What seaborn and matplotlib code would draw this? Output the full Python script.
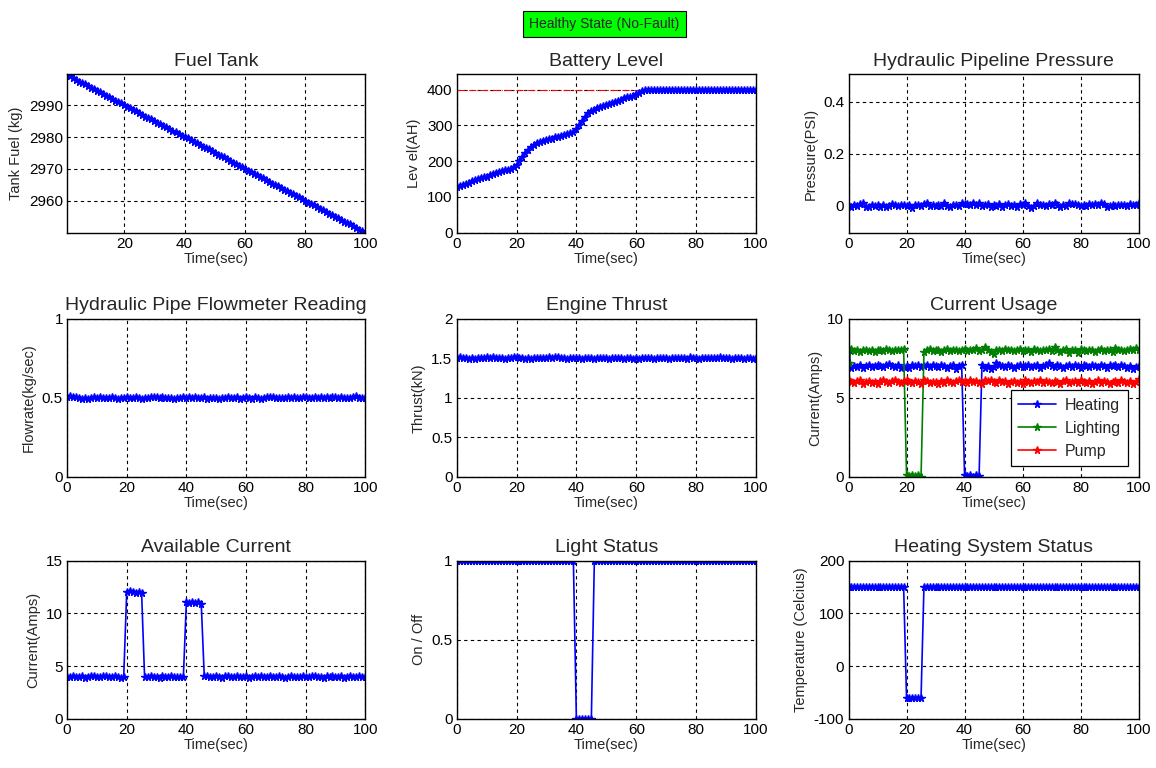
import numpy as np
import pandas as pd
import matplotlib
matplotlib.use('Agg')
import matplotlib.pyplot as plt
import seaborn as sns

time = np.arange(0, 101)
fuel_time = np.arange(1, 101)

fuel = [2999.5, 2999.0, 2998.6, 2998.0, 2997.4, 2997.0, 2996.5, 2996.1, 2995.5, 2995.0,
        2994.4, 2994.0, 2993.6, 2993.0, 2992.5, 2992.0, 2991.4, 2991.0, 2990.6, 2990.0,
        2989.4, 2989.0, 2988.5, 2988.1, 2987.5, 2987.0, 2986.4, 2986.0, 2985.6, 2985.0,
        2984.5, 2984.0, 2983.4, 2983.0, 2982.6, 2982.0, 2981.5, 2981.0, 2980.4, 2980.0,
        2979.6, 2979.0, 2978.5, 2978.0, 2977.4, 2977.0, 2976.5, 2976.1, 2975.5, 2975.0,
        2974.4, 2974.0, 2973.6, 2973.0, 2972.5, 2972.0, 2971.4, 2971.0, 2970.6, 2970.0,
        2969.5, 2969.0, 2968.4, 2968.0, 2967.6, 2967.0, 2966.5, 2966.0, 2965.4, 2965.0,
        2964.6, 2964.0, 2963.5, 2963.0, 2962.4, 2962.0, 2961.5, 2961.1, 2960.5, 2960.0,
        2959.4, 2959.0, 2958.6, 2958.0, 2957.5, 2957.0, 2956.4, 2956.0, 2955.6, 2955.0,
        2954.5, 2954.0, 2953.4, 2953.0, 2952.6, 2952.0, 2951.5, 2951.0, 2950.4, 2950.0]

battery = [128, 130, 133, 137, 140, 144, 147, 150, 152, 155,
           157, 160, 163, 166, 169, 172, 174, 176, 179, 184,
           190, 200, 212, 222, 232, 240, 246, 250, 253, 256,
           258, 261, 263, 266, 268, 271, 274, 277, 279, 282,
           290, 302, 313, 324, 334, 340, 344, 348, 351, 354,
           357, 360, 363, 366, 369, 372, 375, 378, 380, 383,
           387, 391, 395, 399] + [400] * 37
battery_max = 400

pressure = [0.000, -0.006, 0.004, -0.003, 0.008, 0.012, -0.004, -0.006, 0.001, -0.002,
            0.003, -0.004, 0.002, -0.005, 0.000, 0.006, 0.004, -0.002, 0.003, 0.001,
            -0.003, 0.002, -0.008, 0.001, 0.004, -0.003, 0.006, 0.011, -0.002, 0.003,
            -0.001, 0.004, -0.003, 0.009, -0.002, -0.004, 0.003, 0.002, -0.001, 0.010,
            0.006, 0.008, 0.004, 0.012, 0.003, 0.009, -0.002, 0.001, 0.005, -0.004,
            0.004, -0.003, 0.006, -0.006, 0.002, 0.008, -0.001, 0.003, -0.004, 0.006,
            0.002, 0.009, -0.003, -0.010, -0.002, 0.010, 0.004, 0.002, -0.001, 0.006,
            0.003, 0.009, 0.001, -0.004, 0.002, 0.000, 0.011, 0.008, 0.006, 0.001,
            -0.002, 0.003, 0.000, 0.008, 0.004, 0.007, 0.002, 0.011, 0.005, -0.006,
            -0.003, 0.001, -0.002, 0.003, 0.002, 0.004, -0.003, 0.008, 0.004, 0.003,
            0.010]

flowrate = [0.505, 0.512, 0.503, 0.508, 0.498, 0.495, 0.501, 0.490, 0.497, 0.503,
            0.499, 0.504, 0.496, 0.501, 0.497, 0.503, 0.499, 0.495, 0.502, 0.498,
            0.504, 0.497, 0.501, 0.506, 0.498, 0.494, 0.500, 0.497, 0.504, 0.503,
            0.508, 0.499, 0.505, 0.496, 0.502, 0.497, 0.493, 0.501, 0.496, 0.505,
            0.502, 0.507, 0.498, 0.503, 0.497, 0.499, 0.504, 0.495, 0.501, 0.497,
            0.499, 0.494, 0.502, 0.496, 0.503, 0.497, 0.500, 0.504, 0.495, 0.502,
            0.506, 0.499, 0.495, 0.503, 0.498, 0.494, 0.500, 0.505, 0.503, 0.507,
            0.498, 0.502, 0.496, 0.500, 0.503, 0.497, 0.505, 0.501, 0.497, 0.504,
            0.508, 0.502, 0.496, 0.503, 0.499, 0.505, 0.498, 0.504, 0.502, 0.507,
            0.503, 0.498, 0.504, 0.497, 0.501, 0.496, 0.505, 0.509, 0.502, 0.497,
            0.501]

thrust = [1.505, 1.512, 1.498, 1.503, 1.494, 1.501, 1.497, 1.506, 1.509, 1.503,
          1.514, 1.508, 1.511, 1.505, 1.499, 1.503, 1.497, 1.502, 1.506, 1.510,
          1.512, 1.503, 1.498, 1.494, 1.500, 1.496, 1.503, 1.499, 1.505, 1.509,
          1.507, 1.512, 1.508, 1.514, 1.510, 1.505, 1.500, 1.497, 1.503, 1.508,
          1.499, 1.504, 1.497, 1.501, 1.509, 1.502, 1.496, 1.503, 1.499, 1.506,
          1.502, 1.497, 1.504, 1.498, 1.507, 1.500, 1.496, 1.503, 1.499, 1.495,
          1.501, 1.497, 1.505, 1.498, 1.506, 1.500, 1.494, 1.503, 1.498, 1.506,
          1.502, 1.496, 1.504, 1.499, 1.507, 1.500, 1.503, 1.497, 1.510, 1.502,
          1.506, 1.496, 1.501, 1.498, 1.507, 1.504, 1.509, 1.503, 1.511, 1.505,
          1.508, 1.501, 1.496, 1.503, 1.499, 1.505, 1.497, 1.502, 1.498, 1.496,
          1.501]

heating_current = [8.0, 6.9, 7.0, 6.95, 7.05, 6.9, 7.0, 7.05, 6.95, 7.0,
                   7.1, 7.0, 6.95, 7.05, 7.15, 7.0, 6.95, 7.05, 6.9, 6.95,
                   7.0, 6.9, 7.05, 7.0, 7.1, 6.95, 7.0, 7.05, 6.95, 7.1,
                   7.0, 6.95, 7.05, 7.0, 6.9, 7.0, 7.05, 6.85, 7.0, 7.1,
                   0.1, 0.05, 0.1, 0.0, 0.1, 0.05, 7.1, 6.9, 7.0, 6.85,
                   6.95, 7.2, 7.05, 7.0, 6.95, 7.05, 7.0, 6.9, 7.0, 7.05,
                   6.95, 7.0, 7.1, 6.95, 7.0, 7.05, 6.9, 7.0, 7.05, 7.2,
                   7.0, 6.95, 7.05, 7.0, 6.9, 7.0, 7.1, 6.95, 7.05, 7.0,
                   6.9, 7.05, 7.0, 6.95, 7.1, 7.0, 6.95, 7.05, 7.0, 6.9,
                   7.05, 7.0, 7.1, 6.95, 7.05, 7.0, 6.9, 7.0, 6.85, 6.95,
                   7.0]

lighting_current = [7.2, 8.1, 7.95, 8.05, 7.9, 8.0, 8.05, 7.95, 8.0, 7.9,
                    8.05, 8.0, 7.95, 8.1, 8.0, 7.95, 8.05, 8.0, 8.05, 8.1,
                    0.1, 0.05, 0.1, 0.05, 0.1, 0.0, 7.9, 8.05, 8.1, 7.95,
                    8.0, 8.05, 7.9, 8.0, 8.1, 7.95, 8.0, 8.05, 7.95, 8.0,
                    8.1, 7.95, 8.0, 8.05, 8.15, 7.95, 8.05, 8.2, 8.0, 7.9,
                    7.8, 8.05, 8.0, 7.95, 8.1, 8.0, 8.05, 7.95, 8.0, 8.1,
                    7.95, 8.0, 8.05, 7.9, 8.1, 8.0, 7.95, 8.05, 8.0, 8.1,
                    7.95, 8.2, 8.05, 7.9, 8.0, 8.1, 7.85, 8.05, 8.0, 7.85,
                    8.1, 8.05, 7.95, 8.0, 8.05, 7.9, 8.0, 8.1, 7.95, 8.05,
                    8.0, 7.9, 8.15, 8.0, 8.05, 7.95, 8.0, 8.1, 8.05, 8.15,
                    8.0]

pump_current = [6.1, 6.0, 5.95, 6.05, 6.1, 5.9, 6.0, 6.05, 5.95, 6.0,
                5.9, 6.05, 6.1, 6.0, 5.95, 6.05, 6.15, 6.0, 5.95, 6.05,
                6.1, 6.0, 5.95, 6.05, 6.0, 5.9, 6.1, 6.05, 5.95, 6.0,
                6.0, 5.85, 6.05, 5.95, 6.1, 6.0, 5.95, 6.05, 6.1, 6.0,
                6.05, 5.95, 6.1, 6.0, 6.05, 5.95, 5.85, 6.1, 6.05, 6.15,
                6.0, 5.95, 6.1, 6.0, 6.05, 5.9, 6.0, 6.05, 5.95, 6.0,
                5.9, 6.1, 6.0, 5.95, 6.05, 6.0, 6.1, 5.95, 6.05, 6.0,
                5.95, 6.05, 6.0, 5.9, 6.05, 6.1, 5.95, 6.0, 6.05, 5.95,
                6.1, 6.0, 5.95, 6.05, 5.9, 6.0, 6.1, 5.95, 6.05, 6.0,
                5.9, 6.0, 6.05, 5.95, 6.1, 6.0, 5.95, 6.05, 5.85, 6.0,
                6.2]

available_current = [3.95, 4.0, 4.05, 3.95, 4.0, 4.05, 3.9, 4.0, 4.05, 4.1,
                     4.0, 3.95, 4.05, 4.1, 4.0, 3.95, 4.05, 4.0, 3.9, 4.0,
                     12.0, 12.1, 12.0, 11.95, 12.0, 11.95, 3.95, 4.0, 4.05, 3.95,
                     4.0, 3.9, 4.05, 4.0, 3.95, 4.05, 4.0, 3.95, 4.0, 3.95,
                     11.05, 11.0, 11.05, 10.95, 11.05, 10.9, 4.1, 4.05, 4.0, 3.95,
                     4.05, 4.0, 3.9, 4.05, 4.1, 4.0, 3.95, 4.05, 4.0, 3.95,
                     4.05, 3.9, 4.0, 4.05, 4.0, 4.1, 3.95, 4.0, 4.05, 3.95,
                     4.0, 4.05, 3.95, 3.9, 4.0, 4.05, 3.95, 4.0, 4.0, 4.1,
                     4.0, 3.95, 4.05, 4.1, 4.0, 3.95, 3.9, 4.05, 4.0, 4.1,
                     3.95, 4.0, 4.05, 3.9, 4.0, 4.05, 3.95, 4.0, 4.1, 4.0,
                     3.95]

light_status = [1] * 40 + [0] * 6 + [1] * 55
heating_status = [150] * 20 + [-60] * 6 + [150] * 75

sns.set_style('white')
plt.rcParams['font.family'] = ['Liberation Sans', 'DejaVu Sans']
plt.rcParams['axes.unicode_minus'] = False

BLUE = (0, 0, 1)
GREEN = (0, 0.5, 0)
RED = (1, 0, 0)

fig = plt.figure(figsize=(11.56, 7.68), dpi=100)

lefts = [0.058, 0.395, 0.734]
widths = [0.258, 0.259, 0.251]
bottoms = [0.697, 0.379, 0.064]
h = 0.206


def make_ax(row, col):
    return fig.add_axes([lefts[col], bottoms[row], widths[col], h])


def style_ax(ax, title, ylabel, xlim, ylim, yticks, xticks=(0, 20, 40, 60, 80, 100), yfmt=None):
    ax.set_xlim(*xlim)
    ax.set_ylim(*ylim)
    ax.set_xticks(list(xticks))
    ax.set_yticks(list(yticks))
    if yfmt is not None:
        ax.set_yticklabels(yfmt)
    ax.set_title(title, fontsize=14, pad=6)
    ax.set_xlabel('Time(sec)', fontsize=10.5, labelpad=1)
    ax.set_ylabel(ylabel, fontsize=10.5, labelpad=4)
    ax.grid(True, color='black', linestyle=(0, (3, 3)), linewidth=0.8)
    ax.set_axisbelow(True)
    for s in ax.spines.values():
        s.set_color('black')
        s.set_linewidth(1.0)
    ax.tick_params(direction='in', length=3, labelsize=11, pad=3, colors='black')


def draw(ax, x, y, color, label=None):
    sns.lineplot(x=x, y=y, ax=ax, color=color, marker='*', markersize=5.5,
                 markeredgecolor=color, markeredgewidth=1.0, linewidth=1.2,
                 label=label, legend=False)


# Row 1
ax = make_ax(0, 0)
draw(ax, fuel_time, fuel, BLUE)
style_ax(ax, 'Fuel Tank', 'Tank Fuel (kg)', (1, 100), (2950, 2999.6),
         [2960, 2970, 2980, 2990], xticks=(20, 40, 60, 80, 100))

ax = make_ax(0, 1)
ax.plot([0, 62], [battery_max, battery_max], color=RED, linestyle='-.', linewidth=0.8)
draw(ax, time, battery, BLUE)
style_ax(ax, 'Battery Level', 'Lev el(AH)', (0, 100), (0, 442), [0, 100, 200, 300, 400])

ax = make_ax(0, 2)
draw(ax, time, pressure, BLUE)
style_ax(ax, 'Hydraulic Pipeline Pressure', 'Pressure(PSI)', (0, 100), (-0.104, 0.504),
         [0, 0.2, 0.4], yfmt=['0', '0.2', '0.4'])

# Row 2
ax = make_ax(1, 0)
draw(ax, time, flowrate, BLUE)
style_ax(ax, 'Hydraulic Pipe Flowmeter Reading', 'Flowrate(kg/sec)', (0, 100), (0, 1),
         [0, 0.5, 1], yfmt=['0', '0.5', '1'])

ax = make_ax(1, 1)
draw(ax, time, thrust, BLUE)
style_ax(ax, 'Engine Thrust', 'Thrust(kN)', (0, 100), (0, 2),
         [0, 0.5, 1, 1.5, 2], yfmt=['0', '0.5', '1', '1.5', '2'])

ax = make_ax(1, 2)
usage = pd.DataFrame({'time': time, 'Heating': heating_current,
                      'Lighting': lighting_current, 'Pump': pump_current})
draw(ax, usage['time'], usage['Heating'], BLUE, 'Heating')
draw(ax, usage['time'], usage['Lighting'], GREEN, 'Lighting')
draw(ax, usage['time'], usage['Pump'], RED, 'Pump')
style_ax(ax, 'Current Usage', 'Current(Amps)', (0, 100), (0, 10), [0, 5, 10])
leg = ax.legend(loc='lower right', bbox_to_anchor=(0.99, 0.02), fontsize=11.5,
                frameon=True, fancybox=False, framealpha=1, edgecolor='black',
                handlelength=2.4, handletextpad=0.5, borderpad=0.45, labelspacing=0.5)
leg.get_frame().set_linewidth(0.9)

# Row 3
ax = make_ax(2, 0)
draw(ax, time, available_current, BLUE)
style_ax(ax, 'Available Current', 'Current(Amps)', (0, 100), (0, 15), [0, 5, 10, 15])

ax = make_ax(2, 1)
draw(ax, time, light_status, BLUE)
style_ax(ax, 'Light Status', 'On / Off', (0, 100), (0, 1), [0, 0.5, 1],
         yfmt=['0', '0.5', '1'])

ax = make_ax(2, 2)
draw(ax, time, heating_status, BLUE)
style_ax(ax, 'Heating System Status', 'Temperature (Celcius)', (0, 100), (-100, 200),
         [-100, 0, 100, 200])

fig.text(0.523, 0.969, 'Healthy State (No-Fault)', ha='center', va='center',
         fontsize=10,
         bbox=dict(boxstyle='square,pad=0.45', facecolor=(0, 1, 0), edgecolor='black', linewidth=0.8))

fig.savefig('out.png', dpi=100)
